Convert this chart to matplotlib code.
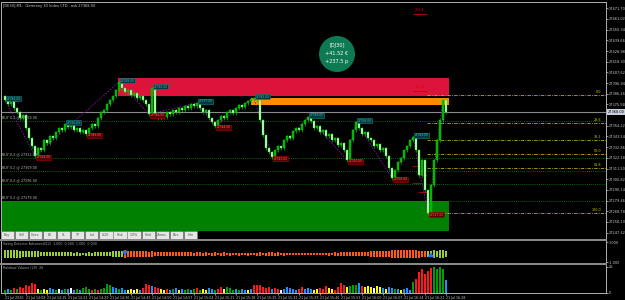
import matplotlib.pyplot as plt
from matplotlib.patches import Rectangle, Ellipse
from matplotlib.lines import Line2D

W, H = 625, 300

# M1 closes, one per bar
closes = [27380, 27376, 27381, 27372, 27368, 27362, 27365, 27352, 27342, 27334, 27324,
          27332, 27330, 27340, 27337, 27344, 27342, 27348, 27352, 27350, 27356,
          27353, 27355, 27350, 27352, 27348, 27350, 27346,
          27352, 27356, 27354, 27362, 27368, 27370, 27376, 27380, 27384, 27390, 27398,
          27392, 27388, 27390, 27385, 27387, 27382, 27384, 27380, 27376, 27366,
          27392, 27365,
          27362, 27366, 27363, 27368, 27366, 27370, 27368, 27372, 27370, 27374, 27372, 27376, 27374, 27377,
          27372, 27368, 27370, 27362, 27358, 27354,
          27360, 27364, 27362, 27368, 27370, 27367, 27372, 27375, 27373, 27377, 27379, 27381, 27382,
          27380, 27360, 27345, 27332, 27328, 27323,
          27330, 27334, 27332, 27340, 27344, 27342, 27349, 27352, 27350, 27356, 27360, 27363,
          27359, 27352, 27354, 27348, 27350, 27344, 27346, 27340, 27342, 27335, 27337, 27330, 27320,
          27340, 27350, 27358,
          27352, 27346, 27348, 27342, 27340, 27334, 27336, 27330, 27332, 27324, 27312, 27302,
          27310, 27318, 27322, 27330, 27334, 27340, 27343,
          27330, 27305, 27320, 27290, 27267,
          27295, 27320, 27340, 27360, 27380, 27368]
first_open = 27384

zigzag_idx = [0, 10, 38, 48, 64, 70, 83, 89, 101, 114, 117, 129, 136, 141, 146]
swing_hi_idx = [0, 20, 38, 49, 64, 83, 101, 117, 136]
swing_lo_idx = [10, 27, 48, 70, 89, 114, 129, 141]

supply_zone = (27384, 27402)
order_block = (27375, 27382)
demand_zone = (27249, 27279)
bid = 27368
buy_levels = [27359, 27322, 27309, 27296, 27279]
fib_levels = [27385, 27357, 27340, 27326, 27312, 27267]
fib_names = ['0.0', '23.6', '38.2', '50.0', '61.8', '100.0']
ext_levels = [27468, 27391]
ext_names = ['261.8', '161.8']
sl_marks = [27314, 27305, 27297, 27288]

price_ticks = [27471.70, 27461.02, 27450.34, 27439.66, 27428.98, 27418.30, 27407.62,
               27396.94, 27386.26, 27375.58, 27354.22, 27343.54, 27332.86,
               27322.18, 27311.50, 27300.82, 27290.14, 27279.46, 27268.78, 27258.10, 27247.42]

time_labels = ['21 Jul 2020', '21 Jul 14:08', '21 Jul 14:15', '21 Jul 14:22', '21 Jul 14:29',
               '21 Jul 14:36', '21 Jul 14:43', '21 Jul 14:50', '21 Jul 14:57', '21 Jul 15:04',
               '21 Jul 15:11', '21 Jul 15:18', '21 Jul 15:25', '21 Jul 15:32', '21 Jul 15:39',
               '21 Jul 15:46', '21 Jul 15:53', '21 Jul 16:00', '21 Jul 16:07', '21 Jul 16:14',
               '21 Jul 16:21', '21 Jul 16:28']

swing_hist = [0.42, 0.40, 0.38, 0.36, 0.40, 0.35, 0.33, 0.30, 0.32, 0.28,
              0.26, 0.27, 0.24, 0.22, 0.24, 0.20, 0.22, 0.19, 0.18, 0.20,
              0.17, 0.16, 0.18, 0.15, 0.16, 0.15, 0.14, 0.15, 0.16, 0.15,
              0.17, 0.18, 0.20, 0.19, 0.22, 0.24, 0.26, 0.28, 0.30, 0.34,
              -0.36, -0.34, -0.32, -0.33, -0.30, -0.28, -0.30, -0.27, -0.25, -0.26,
              -0.24, -0.22, -0.23, -0.20, -0.21, -0.19, -0.20, -0.18, -0.19, -0.17,
              -0.18, -0.16, -0.17, -0.15, -0.16, -0.17, -0.15, -0.16, -0.14, -0.15,
              -0.16, -0.14, -0.15, -0.16, -0.14, -0.15, -0.13, -0.14, -0.15, -0.13,
              -0.14, -0.15, -0.13, -0.14, -0.15, -0.16, -0.14, -0.15, -0.16, -0.17,
              -0.15, -0.16, -0.14, -0.15, -0.13, -0.14, -0.13, -0.12, -0.13, -0.12,
              -0.13, -0.12, -0.11, -0.12, -0.13, -0.12, -0.14, -0.13, -0.15, -0.14,
              -0.16, -0.15, -0.17, -0.18, -0.17, -0.19, -0.20, -0.19, -0.21, -0.22,
              -0.24, -0.23, -0.26, -0.27, -0.29, -0.30, -0.32, -0.34, -0.33, -0.36,
              -0.38, -0.40, -0.38, -0.41, -0.40, -0.38, -0.36, -0.37, -0.35, -0.34,
              -0.30, 0.30, 0.32, 0.36, 0.34, 0.38, 0.36, 0.33]
arrow_down_idx = 40
arrow_up_idx = 142

volumes = [3, 4, 3, 5, 4, 6, 5, 8, 7, 10, 9,
           4, 3, 4, 3, 5, 4, 3, 4, 3, 4,
           4, 5, 3, 4, 3, 5, 6, 4, 3, 4,
           3, 4, 5, 9, 8, 6, 5, 4, 5, 3,
           3, 4, 3, 4, 3, 5, 9, 8, 7, 6,
           5, 4, 3, 4, 3, 4, 5, 3, 4, 3,
           4, 3, 4, 5, 3, 4, 3, 5, 4, 3,
           4, 6, 4, 6, 5, 3, 4, 3, 4, 3,
           3, 4, 8, 8, 8, 6, 5, 6, 4, 5,
           4, 3, 4, 6, 5, 4, 3, 4, 6, 4,
           5, 4, 3, 4, 5, 4, 7, 5, 4, 3,
           6, 10, 8, 6, 7, 8, 8, 10, 7, 6,
           7, 6, 5, 7, 6, 5, 4, 6, 5, 4,
           4, 3, 4, 5, 3, 11, 14, 21, 24, 19,
           22, 25, 26, 24, 26, 24, 13]
vol_colors = ('gbgrgrrrrrr' 'ygyybbgwbg' 'bwbgbgggrg' 'rggggbbgbb' 'yywybrrrbr'
              'ryyrbgbybg' 'gbgrgyybbg' 'rrygggbgbb' 'ybrrrrrrbr'
              'rwbbbbbrrb' 'bbyyrrryyr' 'rrrygggbry' 'yywyybybbg' 'bybbbgrrrr' 'rrggggb')

VCOL = {'g': '#00a000', 'r': '#ff1a1a', 'b': '#1e90ff', 'y': '#ffff00', 'w': '#ffffff'}
LIME = '#00d000'
N = len(closes)
opens = [first_open] + closes[:-1]
x = list(range(N))


def box(x0, y0, x1, y1):
    return [x0 / W, 1 - y1 / H, (x1 - x0) / W, (y1 - y0) / H]


def fp(px, py):
    return px / W, 1 - py / H


fig = plt.figure(figsize=(6.25, 3.0), dpi=100, facecolor='black')
ax = fig.add_axes(box(1, 2, 606, 239.5))
ax_sw = fig.add_axes(box(1, 241, 606, 263), sharex=ax)
ax_vol = fig.add_axes(box(1, 264.5, 606, 292.5), sharex=ax)

X0, X1 = -1.33, 200.33
for a in (ax, ax_sw, ax_vol):
    a.set_facecolor('black')
    for s in a.spines.values():
        s.set_color('#b0b0b0')
        s.set_linewidth(0.7)
    a.yaxis.tick_right()
    a.tick_params(axis='y', colors='#c8c8c8', labelsize=2.5, length=1.5, width=0.5, pad=0.6)
ax.spines['bottom'].set_visible(False)
ax_sw.spines['top'].set_visible(False)
ax_sw.spines['bottom'].set_visible(False)
ax_vol.spines['top'].set_visible(False)
ax.set_xlim(X0, X1)
ax.set_ylim(27240.5, 27478)

# zones
ax.add_patch(Rectangle((37.7, supply_zone[0]), 148 - 37.7, supply_zone[1] - supply_zone[0],
                       color='#dc143c', lw=0, zorder=1))
ax.add_patch(Rectangle((82, order_block[0]), 148 - 82, order_block[1] - order_block[0],
                       color='#ff8c00', lw=0, zorder=1))
ax.add_patch(Rectangle((X0, demand_zone[0]), 148 - X0, demand_zone[1] - demand_zone[0],
                       color='#008000', lw=0, zorder=1))

# levels
ax.hlines(bid, X0, X1, color='#8a8a8a', lw=0.8, zorder=2)
ax.hlines(buy_levels, X0, X1, color='#0a8a0a', lw=0.6, linestyles=(0, (1, 1.5)), zorder=2)
for lv in buy_levels:
    ax.text(-0.9, lv + 1.2, f'BUY 0.2 @ {lv:.2f}', fontsize=2.4, color='#b8b8b8',
            va='bottom', ha='left', zorder=5)
ax.hlines(fib_levels, 140.5, X1, color='#b4b400', lw=0.6,
          linestyles=(0, (4, 1.5, 1, 1.5)), zorder=2)
for lv, nm in zip(fib_levels, fib_names):
    ax.text(198.8, lv + 0.8, nm, fontsize=2.4, color='#c8c800', ha='right', va='bottom', zorder=5)
for lv, nm in zip(ext_levels, ext_names):
    ax.hlines(lv - 1.5, 136, 140.5, color='#d00000', lw=0.6, zorder=3)
    ax.text(138.2, lv, nm, fontsize=2.4, color='#e00000', ha='center', va='bottom', zorder=5)
for k, lv in enumerate(sl_marks):
    ax.hlines(lv, 135.5 + (k % 2) * 2, 138.5 + (k % 2) * 2, color='#c00000', lw=0.6, zorder=3)

# zigzag
ax.plot([x[i] for i in zigzag_idx], [closes[i] for i in zigzag_idx], color='#8a10a8',
        lw=0.6, ls=(0, (2, 1.5)), zorder=3)

# candles
for i in x:
    o, c = opens[i], closes[i]
    lo, hi = min(o, c), max(o, c)
    face = '#00b400' if c > o else '#d8ffd8'
    ax.vlines(i, lo - 1.5, hi + 1.5, color=LIME, lw=0.45, zorder=4)
    ax.add_patch(Rectangle((i - 0.38, lo), 0.76, max(hi - lo, 0.6), facecolor=face,
                           edgecolor=LIME, lw=0.3, zorder=4))

# swing labels
for i in swing_hi_idx:
    ax.text(i + 0.6, closes[i] + 1.5, f'{closes[i]:.2f}', fontsize=2.1, color='#40c0c0',
            va='center', ha='left', zorder=6,
            bbox=dict(boxstyle='square,pad=0.15', fc='#003a3c', ec='#1f8080', lw=0.4))
for i in swing_lo_idx:
    ax.text(i + 0.6, closes[i] - 1.5, f'{closes[i]:.2f}', fontsize=2.1, color='#ff7070',
            va='center', ha='left', zorder=6,
            bbox=dict(boxstyle='square,pad=0.15', fc='#5a0000', ec='#b00000', lw=0.4))

ax.set_yticks(price_ticks)
ax.set_yticklabels([f'{v:.2f}' for v in price_ticks])
ax.tick_params(axis='x', bottom=False, labelbottom=False)

# swing detector
ax_sw.set_ylim(-0.9, 1.3)
ax_sw.bar(x, [2 * abs(v) for v in swing_hist], bottom=[-abs(v) for v in swing_hist], width=0.45,
          color=['#9acd32' if v > 0 else '#ff5a1a' for v in swing_hist], lw=0)
ax_sw.annotate('', xy=(arrow_down_idx, -0.45), xytext=(arrow_down_idx, 0.5),
               arrowprops=dict(arrowstyle='simple,head_width=0.8,head_length=0.6,tail_width=0.35',
                               color='#2f6bff', mutation_scale=6, lw=0))
ax_sw.annotate('', xy=(arrow_up_idx, 0.45), xytext=(arrow_up_idx, -0.5),
               arrowprops=dict(arrowstyle='simple,head_width=0.8,head_length=0.6,tail_width=0.35',
                               color='#2f6bff', mutation_scale=6, lw=0))
ax_sw.set_yticks([1.2, -0.8])
ax_sw.set_yticklabels(['1.000', '-1.000'])
ax_sw.tick_params(axis='x', bottom=False, labelbottom=False)

# rainbow volume
ax_vol.set_ylim(0, 28)
ax_vol.bar(x, volumes, width=0.55, color=[VCOL[c] for c in vol_colors], lw=0)
ax_vol.set_yticks([0, max(volumes)])
ax_vol.set_yticklabels(['0', str(max(volumes))])
ax_vol.set_xticks(range(0, N, 7))
ax_vol.set_xticklabels(time_labels, ha='left')
ax_vol.tick_params(axis='x', colors='#c8c8c8', labelsize=2.3, length=1.5, width=0.5, pad=0.8)

# panel separators
for yy in (240.2, 263.7):
    fig.add_artist(Line2D([1 / W, 606 / W], [1 - yy / H] * 2, color='#8c8c8c', lw=1.4))

# texts
fig.text(*fp(3, 6), '[DE30],M1:  Germany 30 Index CFD   ask 27368.00', fontsize=2.6,
         color='#c8c8c8', va='center')
fig.text(*fp(3, 244), 'Swing Detector Advanced(12)  1.000  0.000  1.000  0.000', fontsize=2.3,
         color='#a0a0a0', va='center')
fig.text(*fp(3, 268), 'Rainbow Volume (20)  26', fontsize=2.3, color='#a0a0a0', va='center')
fig.text(*fp(607.5, 112), f'{bid:.2f}', fontsize=2.5, color='black', va='center',
         bbox=dict(boxstyle='square,pad=0.2', fc='#c8d0dc', ec='none'))

# profit badge
cx, cy = fp(337, 54)
fig.add_artist(Ellipse((cx, cy), 36 / W, 36 / H, transform=fig.transFigure,
                       color='#0d7a52', lw=0))
for ty, txt in zip((46, 54, 62), ('[DJ30]', '+41.52 €', '+237.5 p')):
    fig.text(*fp(337, ty), txt, fontsize=3.6, color='white', ha='center', va='center')

# panel buttons
btn_names = ['Buy', 'Sell', 'Close', 'BE', 'SL', 'TP', 'Lot', '0.20', 'Risk', '1.0%',
             'Grid', 'Zones', 'Fibo', 'Info']
for k, nm in enumerate(btn_names):
    x0 = 0.5 + k * 14.1
    fig.add_artist(Rectangle(fp(x0, 238.8), 13.3 / W, 8.3 / H, transform=fig.transFigure,
                             fc='#e6e6e6', ec='#8a8a8a', lw=0.4))
    fig.text(*fp(x0 + 6.6, 234.6), nm, fontsize=2.3, color='#505050', ha='center', va='center')

fig.savefig('out.png', dpi=100, facecolor='black')
